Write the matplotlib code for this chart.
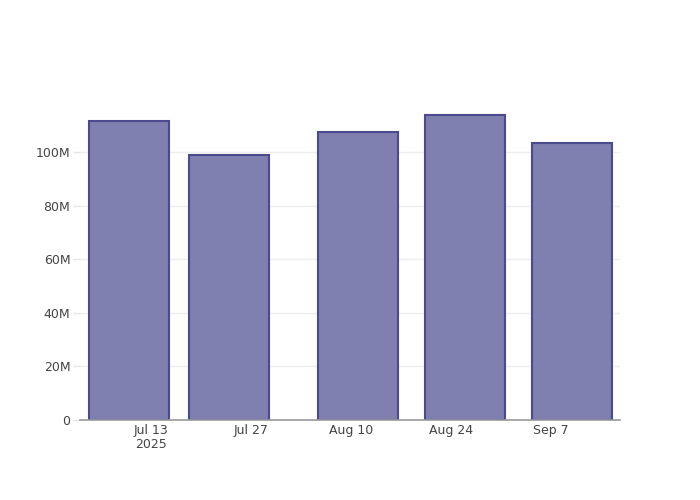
import matplotlib
matplotlib.use('Agg')
import matplotlib.pyplot as plt
import matplotlib.dates as mdates
import numpy as np
from datetime import datetime

# data
dates = ['2025-07-10', '2025-07-24', '2025-08-11', '2025-08-26', '2025-09-10']
values = [111.7e6, 99.1e6, 107.6e6, 113.9e6, 103.5e6]

tick_dates = ['2025-07-13', '2025-07-27', '2025-08-10', '2025-08-24', '2025-09-07']
tick_labels = ['Jul 13\n2025', 'Jul 27', 'Aug 10', 'Aug 24', 'Sep 7']
y_ticks = [0, 20e6, 40e6, 60e6, 80e6, 100e6]
y_labels = ['0', '20M', '40M', '60M', '80M', '100M']


def main():
    plt.rcParams['font.family'] = ['DejaVu Sans']

    fig = plt.figure(figsize=(7, 5), dpi=100)
    ax = fig.add_axes([80 / 700, 80 / 500, 540 / 700, 320 / 500])

    x = mdates.date2num([datetime.strptime(d, '%Y-%m-%d') for d in dates])
    ax.bar(x, values, width=11.2, align='center',
           color='#7f7fb0', edgecolor='#4a4a8c', linewidth=1.5, zorder=2)

    # axis ranges
    ticks_x = mdates.date2num([datetime.strptime(d, '%Y-%m-%d') for d in tick_dates])
    ax.set_xlim(x[0] - 5.6 - 1.3, x[-1] + 5.6 + 1.1)
    ax.set_ylim(0, max(values) * 1.05)

    ax.set_xticks(ticks_x)
    ax.set_xticklabels(tick_labels, fontsize=9, color='#444444', linespacing=1.1)
    ax.set_yticks(y_ticks)
    ax.set_yticklabels(y_labels, fontsize=9, color='#444444')

    ax.tick_params(axis='x', length=0, pad=3)
    ax.tick_params(axis='y', length=5, color='#e6e6e6', width=1, pad=2)

    ax.grid(axis='y', color='#eeeeee', linewidth=1, zorder=0)
    ax.set_axisbelow(True)

    for side in ['top', 'right', 'left']:
        ax.spines[side].set_visible(False)
    ax.spines['bottom'].set_color('#999999')
    ax.spines['bottom'].set_linewidth(1.2)

    fig.savefig('out.png', dpi=100)


if __name__ == '__main__':
    main()
